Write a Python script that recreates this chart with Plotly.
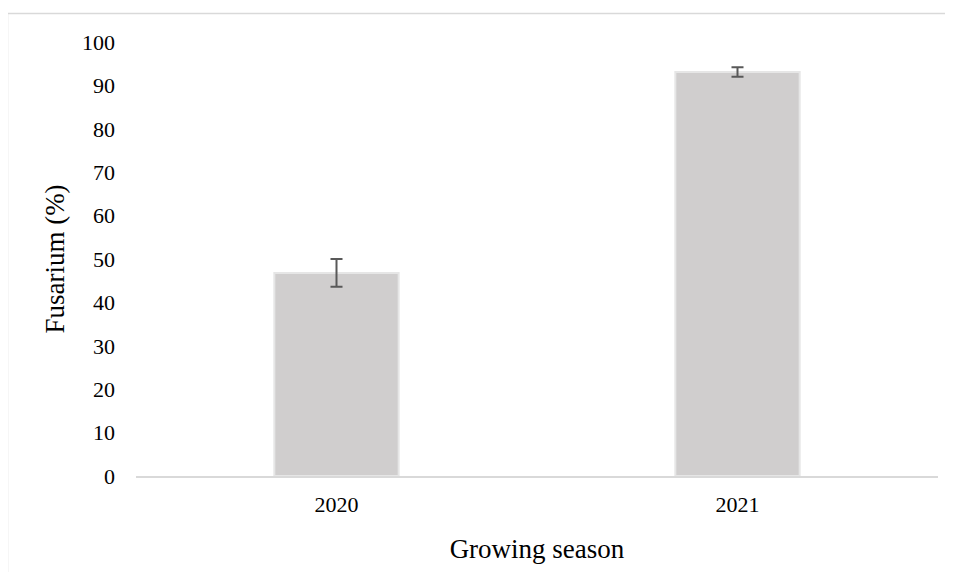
import plotly.graph_objects as go

seasons = ["2020", "2021"]
fusarium = [46.8, 93.1]
errors = [3.2, 1.1]
y_ticks = [0, 10, 20, 30, 40, 50, 60, 70, 80, 90, 100]

# page body has an 8px default margin; figure sized to fit without overflow
OFF = 8
W, H = 953 - 2 * OFF, 580 - 2 * OFF
L, T = 136 - OFF, 42 - OFF
R = W - (938 - OFF)
B = H - (476 - OFF)
pw = W - L - R
ph = H - T - B

def px_x(p):
    return (p - OFF - L) / pw

def px_y(p):
    return (H - B - (p - OFF)) / ph

fig = go.Figure()
fig.add_trace(go.Bar(
    x=seasons, y=fusarium,
    marker=dict(color="#d0cece", line=dict(color="#e6e6e6", width=2)),
    error_y=dict(type="data", array=errors, visible=True, color="#595959",
                 thickness=2, width=6),
    width=0.31,
))

font = "Liberation Serif, Times New Roman, serif"
fig.update_layout(
    width=W, height=H,
    margin=dict(l=L, r=R, t=T, b=B),
    paper_bgcolor="white", plot_bgcolor="white",
    showlegend=False,
    font=dict(family=font, color="#000000", size=22),
    xaxis=dict(
        showgrid=False, showline=True, linecolor="#d9d9d9", linewidth=1.5,
        ticks="", ticklabelstandoff=8,
        tickfont=dict(size=22),
        title=dict(text="Growing season", font=dict(size=27), standoff=23),
    ),
    yaxis=dict(
        range=[0, 100], tickvals=y_ticks, showgrid=False, showline=False,
        zeroline=False, ticks="", ticklabelstandoff=20,
        tickfont=dict(size=22),
        title=dict(text="Fusarium (%)", font=dict(size=27), standoff=9),
    ),
    shapes=[
        dict(type="line", xref="paper", yref="paper",
             x0=px_x(7.5), x1=px_x(953 + 10), y0=px_y(13.5), y1=px_y(13.5),
             line=dict(color="#d9d9d9", width=1.5)),
        dict(type="line", xref="paper", yref="paper",
             x0=px_x(7.5), x1=px_x(7.5), y0=px_y(13.5), y1=px_y(580 + 10),
             line=dict(color="#d9d9d9", width=1.5)),
    ],
)

fig.write_html("out.html")
